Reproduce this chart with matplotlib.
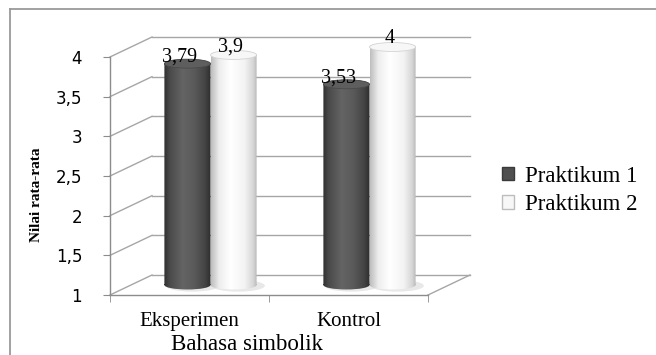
import numpy as np
import matplotlib
matplotlib.use("Agg")
import matplotlib.pyplot as plt
from matplotlib.colors import LinearSegmentedColormap
from matplotlib.patches import Ellipse, Patch
from matplotlib.lines import Line2D
from matplotlib.path import Path
from matplotlib.transforms import Affine2D

# data
kategori = ["Eksperimen", "Kontrol"]
praktikum_1 = [3.79, 3.53]
praktikum_2 = [3.9, 4.0]
label_1 = ["3,79", "3,53"]
label_2 = ["3,9", "4"]
nama_seri = ["Praktikum 1", "Praktikum 2"]
y_ticks = [1, 1.5, 2, 2.5, 3, 3.5, 4]
y_ticklabels = ["1", "1,5", "2", "2,5", "3", "3,5", "4"]

SERIF = ["Liberation Serif", "DejaVu Serif"]
GRID = "#a6a6a6"

fig = plt.figure(figsize=(6.56, 3.55), dpi=100)
W, H = 656.0, 355.0

# bingkai luar (hanya tepi atas dan kiri yang tampak)
fig.add_artist(Line2D([9.5 / W, 1.0], [1 - 8.5 / H] * 2, transform=fig.transFigure,
                      color="#9a9a9a", lw=1.3))
fig.add_artist(Line2D([9.5 / W] * 2, [0, 1 - 8.5 / H], transform=fig.transFigure,
                      color="#9a9a9a", lw=1.3))

ax = fig.add_axes([110 / W, 60 / H, 318 / W, 238 / H])
ax.set_xlim(-0.5, 1.5)
ax.set_ylim(1, 4)
ax.patch.set_visible(False)

# kedalaman 3D dalam satuan data
px_x = (318 / 2.0)
px_y = (238 / 3.0)
DX = 42 / px_x
DY = 20 / px_y

# dinding belakang + dinding kiri
for yv in y_ticks:
    ax.plot([-0.5 + DX, 1.5 + DX], [yv + DY, yv + DY], color=GRID, lw=1.0,
            clip_on=False, zorder=1)
    ax.plot([-0.5, -0.5 + DX], [yv, yv + DY], color=GRID, lw=1.0,
            clip_on=False, zorder=1)
# tepi kanan lantai
ax.plot([1.5, 1.5 + DX], [1, 1 + DY], color=GRID, lw=1.0, clip_on=False, zorder=1)

for s in ["top", "right"]:
    ax.spines[s].set_visible(False)
for s in ["left", "bottom"]:
    ax.spines[s].set_color("#8c8c8c")
    ax.spines[s].set_linewidth(1.0)

ax.set_yticks(y_ticks)
ax.set_yticklabels(y_ticklabels, fontsize=12, family="DejaVu Sans")
ax.tick_params(axis="y", length=5, color="#8c8c8c", pad=15)
ax.set_xticks([0, 1])
ax.set_xticklabels(kategori, fontsize=15, family=SERIF)
ax.set_xticks([-0.5, 0.5, 1.5], minor=True)
ax.tick_params(axis="x", which="major", length=0, pad=12)
ax.tick_params(axis="x", which="minor", length=5, color="#8c8c8c")

cmap_gelap = LinearSegmentedColormap.from_list(
    "gelap", [(0, "#2f2f2f"), (0.12, "#4a4a4a"), (0.4, "#646464"),
              (0.65, "#5a5a5a"), (0.88, "#444444"), (1, "#2c2c2c")])
cmap_terang = LinearSegmentedColormap.from_list(
    "terang", [(0, "#bdbdbd"), (0.18, "#eeeeee"), (0.42, "#ffffff"),
               (0.72, "#f3f3f3"), (0.9, "#d6d6d6"), (1, "#b0b0b0")])

lebar = 0.29
EH = 9 / px_y  # tinggi elips tutup silinder


def silinder(xc, nilai, cmap, warna_tutup, tepi_tutup):
    cx = xc + DX / 2
    dasar = 1 + DY / 2
    atas = nilai + DY / 2
    bar = ax.bar(cx, nilai - 1, width=lebar, bottom=dasar, color="none",
                 linewidth=0, zorder=3)[0]
    badan = bar.get_patch_transform().transform_path(bar.get_path())
    elips = lambda yy: Affine2D().scale(lebar / 2, EH / 2).translate(cx, yy).transform_path(Path.unit_circle())
    bentuk = Path.make_compound_path(badan, elips(dasar), elips(atas))
    # bayangan di lantai
    ax.add_patch(Ellipse((cx + 0.03, dasar - 0.01), lebar * 1.15, EH * 1.3,
                         color="#d9d9d9", alpha=0.6, lw=0, zorder=2, clip_on=False))
    img = ax.imshow(np.linspace(0, 1, 256)[None, :], cmap=cmap, aspect="auto",
                    extent=(cx - lebar / 2, cx + lebar / 2, dasar - EH, atas + EH),
                    interpolation="bilinear", zorder=3)
    img.set_clip_box(fig.bbox)
    img.set_clip_path(bentuk, ax.transData)
    ax.add_patch(Ellipse((cx, atas), lebar, EH, facecolor=warna_tutup,
                         edgecolor=tepi_tutup, lw=0.6, zorder=4, clip_on=False))
    return cx, atas


for i, kat in enumerate(kategori):
    cx, atas = silinder(i - 0.145, praktikum_1[i], cmap_gelap, "#5e5e5e", "#4a4a4a")
    ax.annotate(label_1[i], (cx, atas), xytext=(-6, -2), textcoords="offset points",
                ha="center", va="bottom", fontsize=14.5, family=SERIF, zorder=6,
                annotation_clip=False)
    cx, atas = silinder(i + 0.145, praktikum_2[i], cmap_terang, "#f7f7f7", "#d4d4d4")
    ax.annotate(label_2[i], (cx, atas), xytext=(-2, -1), textcoords="offset points",
                ha="center", va="bottom", fontsize=14.5, family=SERIF, zorder=6,
                annotation_clip=False)

ax.set_xlim(-0.5, 1.5)
ax.set_ylim(1, 4)

fig.text(247 / W, 1 - 344 / H, "Bahasa simbolik", ha="center", va="center",
         fontsize=16.5, family=SERIF)
fig.text(36 / W, 1 - 195 / H, "Nilai rata-rata", ha="center", va="center",
         rotation=90, fontsize=11, fontweight="bold", family=SERIF)

handles = [Patch(facecolor="#4f4f4f", edgecolor="#3a3a3a"),
           Patch(facecolor="#f7f7f7", edgecolor="#bdbdbd")]
fig.legend(handles, nama_seri, loc="upper left",
           bbox_to_anchor=(481 / W, 1 - 145 / H), frameon=False,
           prop={"family": SERIF, "size": 16.5}, handlelength=0.55,
           handleheight=0.55, handletextpad=0.45, labelspacing=0.32)

fig.savefig("out.png", dpi=100)
